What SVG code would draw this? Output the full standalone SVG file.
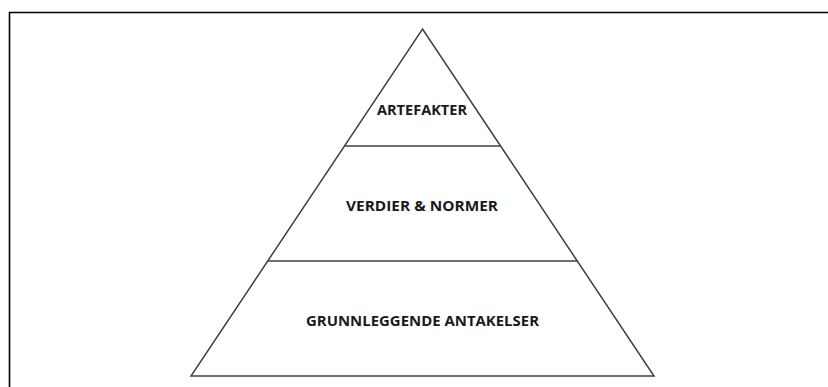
<svg xmlns="http://www.w3.org/2000/svg" width="828" height="387" viewBox="0 0 828 387">
  <style>
    .frame { fill: none; stroke: #000; stroke-width: 1.6; }
    .edge { fill: none; stroke: #404040; stroke-width: 1.5; stroke-linejoin: miter; }
    .label { font-family: "Open Sans", "Liberation Sans", Arial, sans-serif; font-weight: bold; font-size: 15px; fill: #1a1a1a; text-anchor: middle; }
  </style>
  <rect width="828" height="387" fill="#fff"/>
  <!-- frame: top and left edges -->
  <path class="frame" d="M9.5 387 V12.5 H828"/>
  <g id="connectors">
    <!-- pyramid outline and tier dividers -->
    <path class="edge" d="M422.5 29 L654 376 L191 376 Z"/>
    <line class="edge" x1="344.5" y1="146" x2="500.5" y2="146"/>
    <line class="edge" x1="267.5" y1="261" x2="577.5" y2="261"/>
  </g>
  <g id="artefakter">
    <text class="label" x="422" y="114.5" textLength="90" lengthAdjust="spacingAndGlyphs">ARTEFAKTER</text>
  </g>
  <g id="verdier-normer">
    <text class="label" x="422" y="210.5" textLength="152" lengthAdjust="spacingAndGlyphs">VERDIER &amp; NORMER</text>
  </g>
  <g id="grunnleggende-antakelser">
    <text class="label" x="422.5" y="325.5" textLength="233" lengthAdjust="spacingAndGlyphs">GRUNNLEGGENDE ANTAKELSER</text>
  </g>
</svg>
